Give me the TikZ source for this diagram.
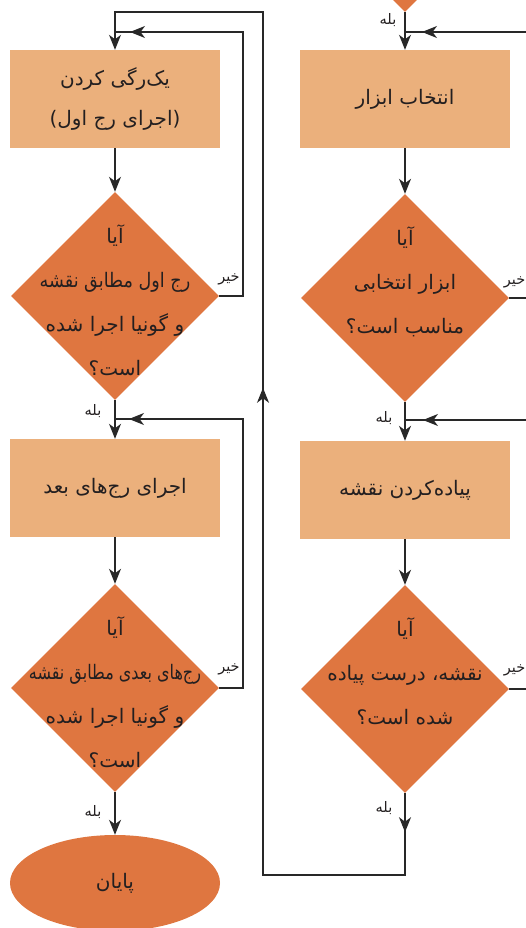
\documentclass[tikz,border=0pt]{standalone}
\usepackage{fontspec}
\usepackage{graphicx}
\newfontfamily\fa[Script=Arabic]{DejaVu Sans}
\TeXXeTstate=1
\usetikzlibrary{shapes.geometric,arrows.meta,decorations.markings}
\newcommand\rl[1]{\beginR #1\endR}
\definecolor{boxc}{RGB}{235,176,124}
\definecolor{diac}{RGB}{223,118,64}
\definecolor{linec}{RGB}{40,40,40}
\definecolor{txtc}{RGB}{35,31,32}
\tikzset{
  box/.style={fill=boxc, minimum width=210pt, minimum height=98pt, inner sep=0pt,
    font=\fa\fontsize{20}{40}\selectfont, align=center, text=txtc},
  dia/.style={diamond, fill=diac, minimum width=208pt, minimum height=208pt, inner sep=0pt, shape aspect=1},
  dtxt/.style={font=\fa\fontsize{20}{44}\selectfont, align=center, inner sep=0pt, text=txtc},
  lbl/.style={font=\fa\fontsize{14.5}{16}\selectfont, inner sep=0pt, text=txtc},
  cline/.style={draw=linec, line width=1.2pt},
  tip/.tip={Stealth[length=15pt,width=12pt,inset=4.5pt]},
  arr/.style={cline, -tip},
  midarr/.style={postaction={decorate}, decoration={markings, mark=at position #1 with {\arrow{tip}}}},
}
\begin{document}
\begin{tikzpicture}[x=1pt,y=-1pt]
\useasboundingbox (0,0) rectangle (526,928);
\clip (0,0) rectangle (526,928);
% right column
\node[dia] (d0) at (405,-92) {};
\node[box] (b3) at (405,99) {\beginR انتخاب ابزار\endR};
\node[dia] (d3) at (405,298) {};
\node[dtxt] (t3) at (405,282) {\beginR آیا\endR\\\beginR ابزار انتخابی\endR\\\beginR مناسب است؟\endR};
\node[box] (b4) at (405,490) {\beginR پیاده^^^^200cکردن نقشه\endR};
\node[dia] (d4) at (405,689) {};
\node[dtxt] (t4) at (405,671) {\beginR آیا\endR\\\beginR نقشه، درست پیاده\endR\\\beginR شده است؟\endR};
% left column
\node[box] (b1) at (115,99) {\beginR یک^^^^200cرگی کردن\endR\\\beginR (اجرای رج اول)\endR};
\node[dia] (d1) at (115,296) {};
\node[dtxt] (t1) at (115,300) {\beginR آیا\endR\\\scalebox{0.88}[1]{\beginR رج اول مطابق نقشه\endR}\\\beginR و گونیا اجرا شده\endR\\\beginR است؟\endR};
\node[box] (b2) at (115,488) {\beginR اجرای رج^^^^200cهای بعد\endR};
\node[dia] (d2) at (115,688) {};
\node[dtxt] (t2) at (115,692) {\beginR آیا\endR\\\scalebox{0.8}[1]{\beginR رج^^^^200cهای بعدی مطابق نقشه\endR}\\\beginR و گونیا اجرا شده\endR\\\beginR است؟\endR};
\node[ellipse, fill=diac, minimum width=210pt, minimum height=96pt, inner sep=0pt,
  font=\fa\fontsize{20}{22}\selectfont, text=txtc] (e) at (115,883) {\beginR پایان\endR};
% coordinates
\coordinate (r1) at (526,32);  \coordinate (j1) at (405,32);
\coordinate (r2) at (526,298);
\coordinate (r3) at (526,420); \coordinate (j3) at (405,420);
\coordinate (r4) at (526,689);
\coordinate (c1) at (405,875); \coordinate (c2) at (263,875);
\coordinate (c3) at (263,12);  \coordinate (c4) at (115,12);
\coordinate (c5) at (243,296); \coordinate (c6) at (243,32); \coordinate (j5) at (115,32);
\coordinate (c7) at (243,688); \coordinate (c8) at (243,419); \coordinate (j7) at (115,419);
% connectors right
\draw[arr] (d0.south) -- (b3.north);
\draw[cline, midarr=-17pt] (r1) -- (j1);
\draw[arr] (b3.south) -- (d3.north);
\draw[cline] (d3.east) -- (r2);
\draw[arr] (d3.south) -- (b4.north);
\draw[cline, midarr=-18pt] (r3) -- (j3);
\draw[arr] (b4.south) -- (d4.north);
\draw[cline] (d4.east) -- (r4);
\draw[cline, -tip, postaction={decorate}, decoration={markings,
   mark=at position 39pt with {\arrow{tip}},
   mark=at position 711pt with {\arrow{tip}}}]
   (d4.south) -- (c1) -- (c2) -- (c3) -- (c4) -- (b1.north);
% connectors left
\draw[arr] (b1.south) -- (d1.north);
\draw[cline, midarr=-15pt] (d1.east) -- (c5) -- (c6) -- (j5);
\draw[arr] (d1.south) -- (b2.north);
\draw[arr] (b2.south) -- (d2.north);
\draw[cline, midarr=-14pt] (d2.east) -- (c7) -- (c8) -- (j7);
\draw[arr] (d2.south) -- (e.north);
% labels
\node[lbl] (l1) at (388,20) {\beginR بله\endR};
\node[lbl] (l2) at (384,418) {\beginR بله\endR};
\node[lbl] (l3) at (384,808) {\beginR بله\endR};
\node[lbl] (l4) at (93,411) {\beginR بله\endR};
\node[lbl] (l5) at (93,812) {\beginR بله\endR};
\node[lbl] (n1) at (229,279) {\beginR خیر\endR};
\node[lbl] (n2) at (229,669) {\beginR خیر\endR};
\node[lbl, anchor=east] (n3) at (525.5,282) {\beginR خیر\endR};
\node[lbl, anchor=east] (n4) at (525.5,670) {\beginR خیر\endR};
\end{tikzpicture}
\end{document}
